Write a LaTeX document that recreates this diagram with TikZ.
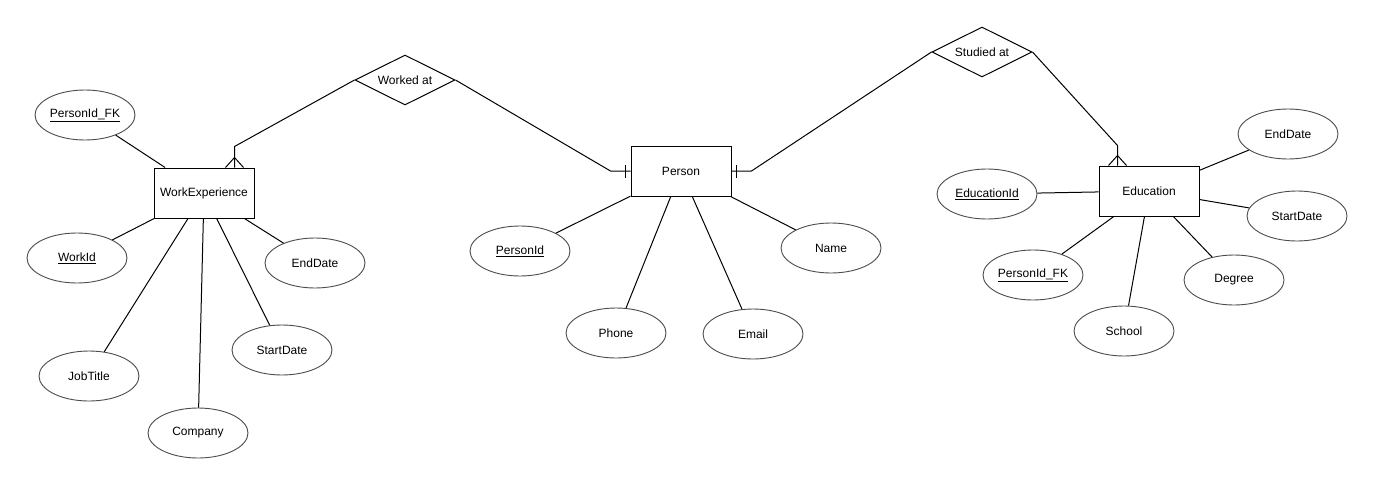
\documentclass[tikz,border=0pt]{standalone}
\usepackage{fontspec}
\setmainfont{Liberation Sans}
\usetikzlibrary{shapes.geometric,calc}
\tikzset{
  entity/.style={draw=black,line width=1pt,rectangle,minimum width=100pt,minimum height=50pt,inner sep=0pt,font=\fontsize{12pt}{14pt}\selectfont},
  attr/.style={draw=black!70,line width=0.9pt,ellipse,minimum width=100pt,minimum height=50pt,inner sep=0pt,font=\fontsize{12pt}{14pt}\selectfont},
  rel/.style={draw=black,line width=1pt,diamond,aspect=2,minimum width=100pt,minimum height=50pt,inner sep=0pt,font=\fontsize{12pt}{14pt}\selectfont},
  link/.style={draw=black,line width=1pt}
}
\begin{document}
\begin{tikzpicture}[x=1pt,y=-1pt]
\useasboundingbox[fill=white] (0,0) rectangle (1373,485);
% entities
\node[entity] (we) at (204,193) {WorkExperience};
\node[entity] (per) at (681,171) {Person};
\node[entity] (ed) at (1149,191) {Education};
% relationships
\node[rel] (wa) at (405,80) {Worked at};
\node[rel] (sa) at (982,52) {Studied at};
% WorkExperience attributes
\node[attr] (pfk1) at (85,115) {\underline{PersonId\_FK}};
\node[attr] (wid) at (77,258) {\underline{WorkId}};
\node[attr] (jt) at (89,376) {JobTitle};
\node[attr] (co) at (198,433) {Company};
\node[attr] (sd1) at (282,350) {StartDate};
\node[attr] (edt1) at (315,263) {EndDate};
% Person attributes
\node[attr] (pid) at (520,251) {\underline{PersonId}};
\node[attr] (ph) at (616,333) {Phone};
\node[attr] (em) at (753,334) {Email};
\node[attr] (nm) at (831,248) {Name};
% Education attributes
\node[attr] (edt2) at (1288,134) {EndDate};
\node[attr] (sd2) at (1297,216) {StartDate};
\node[attr] (dg) at (1234,280) {Degree};
\node[attr] (sc) at (1124,331) {School};
\node[attr] (pfk2) at (1033,275) {\underline{PersonId\_FK}};
\node[attr] (eid) at (987,194) {\underline{EducationId}};
% attribute links
\foreach \a in {pfk1,wid,jt,co,sd1,edt1} \draw[link] (we) -- (\a);
\foreach \a in {pid,ph,em,nm} \draw[link] (per) -- (\a);
\foreach \a in {edt2,sd2,dg,sc,pfk2,eid} \draw[link] (ed) -- (\a);
% relationship links
\coordinate (weTop) at ($(we.north east)+(-20,0)$);
\coordinate (edTop) at ($(ed.north west)+(19,0)$);
\draw[link] (wa.west) -- ($(weTop)+(0,-21)$) -- (weTop);
\draw[link] ($(weTop)+(-9,0)$) -- ($(weTop)+(0,-10)$) -- ($(weTop)+(9,0)$);
\draw[link] (wa.east) -- ($(per.west)+(-20,0)$) -- (per.west);
\draw[link] ($(per.west)+(-5,-6)$) -- ($(per.west)+(-5,7)$);
\draw[link] (per.east) -- ($(per.east)+(20,0)$) -- (sa.west);
\draw[link] ($(per.east)+(5,-6)$) -- ($(per.east)+(5,7)$);
\draw[link] (sa.east) -- ($(edTop)+(0,-20)$) -- (edTop);
\draw[link] ($(edTop)+(-9,0)$) -- ($(edTop)+(0,-10)$) -- ($(edTop)+(9,0)$);
\end{tikzpicture}
\end{document}
